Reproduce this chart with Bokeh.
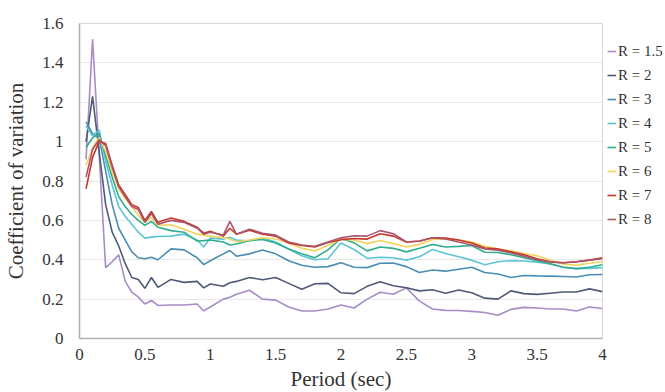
from bokeh.plotting import figure
from bokeh.models import Legend, LegendItem, FixedTicker, Range1d
from bokeh.embed import file_html
from bokeh.resources import INLINE

period = [0.05, 0.1, 0.15, 0.2, 0.25, 0.3, 0.35, 0.4, 0.45, 0.5, 0.55, 0.6,
          0.7, 0.8, 0.9, 0.95, 1.0, 1.1, 1.15, 1.2, 1.3, 1.4, 1.5,
          1.6, 1.7, 1.8, 1.9, 2.0, 2.1, 2.2, 2.3, 2.4, 2.5, 2.6, 2.7, 2.8, 2.9,
          3.0, 3.1, 3.2, 3.3, 3.4, 3.5, 3.6, 3.7, 3.8, 3.9, 4.0]

r1_5 = [0.91, 1.52, 0.94, 0.36, 0.39, 0.425, 0.29, 0.235, 0.21, 0.175, 0.193, 0.168,
        0.17, 0.17, 0.175, 0.14, 0.16, 0.20, 0.21, 0.225, 0.245, 0.20, 0.195,
        0.16, 0.14, 0.14, 0.15, 0.17, 0.155, 0.20, 0.235, 0.225, 0.257, 0.19, 0.15, 0.143, 0.142,
        0.138, 0.132, 0.118, 0.148, 0.158, 0.155, 0.15, 0.15, 0.14, 0.16, 0.152]
r2 = [1.0, 1.23, 0.95, 0.68, 0.54, 0.47, 0.38, 0.31, 0.30, 0.255, 0.31, 0.26,
      0.30, 0.285, 0.29, 0.257, 0.277, 0.265, 0.283, 0.29, 0.31, 0.298, 0.31,
      0.28, 0.25, 0.278, 0.28, 0.232, 0.228, 0.265, 0.288, 0.268, 0.258, 0.242, 0.248, 0.23, 0.246,
      0.232, 0.205, 0.2, 0.242, 0.228, 0.224, 0.23, 0.236, 0.236, 0.252, 0.238]
r3 = [1.1, 1.04, 1.02, 0.85, 0.68, 0.56, 0.50, 0.44, 0.41, 0.405, 0.413, 0.40,
      0.455, 0.45, 0.41, 0.375, 0.395, 0.43, 0.447, 0.418, 0.43, 0.45, 0.43,
      0.395, 0.372, 0.362, 0.365, 0.385, 0.362, 0.36, 0.382, 0.383, 0.365, 0.335, 0.348, 0.342, 0.352,
      0.362, 0.335, 0.328, 0.31, 0.32, 0.318, 0.317, 0.315, 0.312, 0.324, 0.325]
r4 = [1.08, 1.03, 1.06, 0.90, 0.78, 0.67, 0.62, 0.58, 0.54, 0.51, 0.515, 0.518,
      0.52, 0.53, 0.50, 0.465, 0.51, 0.505, 0.514, 0.50, 0.495, 0.51, 0.49,
      0.455, 0.42, 0.40, 0.405, 0.485, 0.452, 0.408, 0.413, 0.41, 0.398, 0.415, 0.452, 0.432, 0.415,
      0.398, 0.375, 0.39, 0.395, 0.394, 0.388, 0.378, 0.362, 0.355, 0.356, 0.36]
r5 = [0.97, 1.02, 1.04, 0.93, 0.82, 0.72, 0.67, 0.63, 0.60, 0.575, 0.595, 0.565,
      0.548, 0.54, 0.495, 0.497, 0.50, 0.49, 0.475, 0.48, 0.498, 0.503, 0.485,
      0.455, 0.43, 0.41, 0.45, 0.508, 0.486, 0.445, 0.465, 0.458, 0.44, 0.458, 0.478, 0.465, 0.468,
      0.472, 0.438, 0.437, 0.425, 0.41, 0.395, 0.38, 0.362, 0.355, 0.362, 0.375]
r6 = [0.88, 0.97, 1.02, 0.95, 0.85, 0.76, 0.71, 0.67, 0.625, 0.59, 0.615, 0.575,
      0.578, 0.555, 0.53, 0.525, 0.52, 0.512, 0.505, 0.49, 0.50, 0.512, 0.505,
      0.485, 0.458, 0.445, 0.472, 0.505, 0.50, 0.482, 0.498, 0.482, 0.465, 0.478, 0.503, 0.506, 0.50,
      0.49, 0.468, 0.455, 0.445, 0.432, 0.42, 0.398, 0.378, 0.372, 0.382, 0.39]
r7 = [0.76, 0.92, 1.0, 0.99, 0.88, 0.78, 0.73, 0.68, 0.665, 0.60, 0.645, 0.59,
      0.612, 0.595, 0.565, 0.535, 0.545, 0.52, 0.56, 0.53, 0.55, 0.53, 0.52,
      0.485, 0.472, 0.465, 0.488, 0.502, 0.508, 0.505, 0.532, 0.52, 0.49, 0.495, 0.512, 0.51, 0.50,
      0.485, 0.46, 0.455, 0.44, 0.425, 0.405, 0.39, 0.385, 0.39, 0.398, 0.41]
r8 = [0.82, 0.96, 1.01, 0.98, 0.87, 0.77, 0.72, 0.67, 0.655, 0.59, 0.635, 0.58,
      0.60, 0.59, 0.56, 0.53, 0.54, 0.525, 0.595, 0.53, 0.555, 0.535, 0.525,
      0.49, 0.475, 0.468, 0.49, 0.512, 0.522, 0.52, 0.548, 0.532, 0.49, 0.494, 0.512, 0.505, 0.49,
      0.475, 0.455, 0.448, 0.435, 0.418, 0.40, 0.388, 0.385, 0.39, 0.398, 0.405]

labels = ["R = 1.5", "R = 2", "R = 3", "R = 4", "R = 5", "R = 6", "R = 7", "R = 8"]
series = [r1_5, r2, r3, r4, r5, r6, r7, r8]
colors = ["#a68cc8", "#4f5a74", "#4a8db3", "#5cc5d5", "#2fae8e", "#f2d35e", "#c9352c", "#a8566a"]

x_ticks = [0, 0.5, 1, 1.5, 2, 2.5, 3, 3.5, 4]
x_tick_labels = ["0", "0.5", "1", "1.5", "2", "2.5", "3", "3.5", "4"]
y_ticks = [0, 0.2, 0.4, 0.6, 0.8, 1.0, 1.2, 1.4, 1.6]
y_tick_labels = ["0", "0.2", "0.4", "0.6", "0.8", "1", "1.2", "1.4", "1.6"]

FONT = "Liberation Serif"
TXT = "#333333"

p = figure(frame_width=523, frame_height=315, output_backend="svg", toolbar_location=None,
           x_range=Range1d(0, 4), y_range=Range1d(0, 1.6),
           min_border_left=79, min_border_right=62, min_border_top=23, min_border_bottom=52)
p.background_fill_color = "white"
p.border_fill_color = "white"
p.outline_line_color = "#d9d9d9"
p.outline_line_width = 1

items = []
for lab, ys, c in zip(labels, series, colors):
    r = p.line(period, ys, line_color=c, line_width=1.6)
    items.append(LegendItem(label=lab, renderers=[r]))

p.xgrid.grid_line_color = None
p.ygrid.grid_line_color = "#e8e8e8"
p.ygrid.grid_line_width = 1
p.ygrid.ticker = FixedTicker(ticks=y_ticks)

p.xaxis.ticker = FixedTicker(ticks=x_ticks)
p.yaxis.ticker = FixedTicker(ticks=y_ticks)
p.xaxis.major_label_overrides = {t: l for t, l in zip(x_ticks, x_tick_labels)}
p.yaxis.major_label_overrides = {t: l for t, l in zip(y_ticks, y_tick_labels)}

for ax in (p.xaxis[0], p.yaxis[0]):
    ax.axis_line_color = "#b0b0b0"
    ax.axis_line_width = 1.5
    ax.major_tick_line_color = None
    ax.minor_tick_line_color = None
    ax.major_label_text_font = FONT
    ax.major_label_text_font_size = "17px"
    ax.major_label_text_color = TXT
    ax.axis_label_text_font = FONT
    ax.axis_label_text_font_size = "21px"
    ax.axis_label_text_font_style = "normal"
    ax.axis_label_text_color = TXT

p.xaxis.axis_label = "Period (sec)"
p.yaxis.axis_label = "Coefficient of variation"
p.xaxis.major_label_standoff = 4
p.xaxis.axis_label_standoff = 4
p.yaxis.major_label_standoff = 10
p.yaxis.axis_label_standoff = 11

legend = Legend(items=items, location=(5, 109), orientation="vertical",
                padding=0, margin=0, spacing=4,
                glyph_width=9, glyph_height=20, label_height=20, label_standoff=2,
                label_text_font=FONT, label_text_font_size="15px", label_text_color=TXT,
                border_line_alpha=0, background_fill_alpha=0)
p.add_layout(legend, "right")

open("out.html", "w").write(file_html(p, INLINE))
